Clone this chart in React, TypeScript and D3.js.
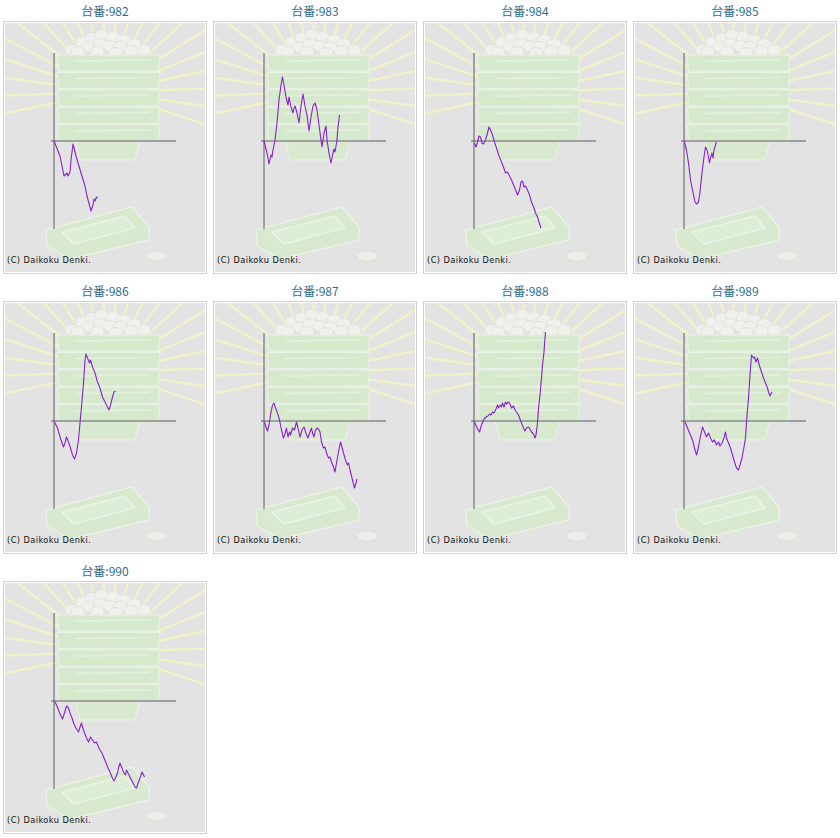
import * as d3 from 'd3'

const W = 840, H = 838
const COLS = 4
const PITCH_X = 210, PITCH_Y = 280

// machine numbers, in reading order
const MACHINES = ['982', '983', '984', '985', '986', '987', '988', '989', '990']

// slump data: [games (x), balls/100 (y)]
const SLUMP_982: [number, number][] = [
  [0, 0], [6, -15], [10, -35], [13, -32], [14, -35], [16, -31], [17, -19], [19, -3], [22, -15],
  [27, -32], [31, -45], [33, -55], [37, -70], [39, -64], [40, -58], [41, -60], [42.5, -56], [43.5, -57],
]
const SLUMP_983: [number, number][] = [
  [0, 0], [3, -12], [5, -23], [7, -14], [8, -16], [9, -9], [11, 1], [13, 18], [15, 41], [17, 56],
  [18.5, 64], [20, 56], [22, 44], [24, 36], [25, 44], [27, 34], [29, 28], [30, 33], [31, 35],
  [33, 28], [35, 18], [37, 35], [39, 47], [41, 35], [43, 26], [45, 10], [47, 24], [49, 35],
  [51, 38], [53, 31], [55, 16], [57, 1], [58, -6], [60, 8], [62, 15], [63, 1], [65, -12],
  [67, -22], [69, -12], [70, -8], [71, -11], [73, 1], [74, 14], [75.5, 26],
]
const SLUMP_984: [number, number][] = [
  [0.5, -2], [2, -6], [3.5, -1], [5, 5], [6.5, 4], [8, -2], [9.5, -3], [11.5, 1], [13.5, 8],
  [15, 14], [16.5, 11], [18.5, 6], [20.5, -1], [22.5, -7], [25, -15], [27.5, -21], [29.5, -26],
  [31.5, -32], [33.5, -31], [35.5, -35], [37.5, -39], [40, -45], [42, -50], [43.5, -54],
  [45.5, -49], [47, -41], [48.5, -40], [50, -46], [51.5, -45], [53.5, -49], [55.5, -54],
  [57.5, -61], [60, -67], [61.5, -72], [63.5, -76], [65, -81], [67, -87],
]
const SLUMP_985: [number, number][] = [
  [0.5, -1], [2.5, -9], [4.5, -22], [6.5, -39], [8.5, -49], [11, -61], [12.5, -63], [14.5, -61],
  [16, -51], [18, -32], [20, -16], [21.5, -6], [23, -9], [24.5, -16], [25.5, -22], [26.5, -17],
  [28, -12], [29, -17], [30, -9], [31.5, -4], [32.5, -1],
]
const SLUMP_986: [number, number][] = [
  [0.5, -1], [3.5, -7], [5.5, -14], [7, -19], [9.5, -26], [11, -22], [12.5, -16], [14.5, -21],
  [16.5, -27], [18.5, -34], [20.5, -38], [22.5, -32], [24.5, -19], [26, -2], [27.5, 14],
  [29.5, 38], [31, 61], [32, 67], [33.5, 63], [35.5, 58], [36.5, 61], [38.5, 54], [41, 48],
  [43.5, 39], [46, 33], [48.5, 24], [51, 19], [53.5, 14], [55, 11], [56.5, 16], [58.5, 24],
  [60, 29], [61.5, 30],
]
const SLUMP_987: [number, number][] = [
  [0.5, -1], [2, -6], [3.5, -10], [5, -4], [6.5, 6], [8.5, 16], [10, 18], [11.5, 13], [13.5, 8],
  [15.5, 1], [17.5, -9], [19.5, -17], [21, -13], [22.5, -7], [24, -16], [25.5, -11], [26.5, -14],
  [28.5, -7], [30.5, -9], [32.5, -1], [34, -7], [36, -16], [38, -9], [40, -6], [42, -12],
  [44, -17], [46, -11], [47.5, -7], [48.5, -12], [50, -16], [51.5, -9], [53.5, -7], [55, -9],
  [56, -11], [57.5, -21], [59.5, -27], [61, -26], [62.5, -32], [64.5, -37], [66, -36],
  [67.5, -41], [69.5, -46], [71, -51], [72.5, -42], [74.5, -31], [76.5, -21], [78, -26],
  [79.5, -32], [81.5, -39], [83.5, -44], [84.5, -42], [86, -49], [88, -57], [89.5, -63],
  [90.5, -67], [92, -62], [93, -58],
]
const SLUMP_988: [number, number][] = [
  [0.5, -1], [2.5, -6], [5.5, -11], [7.5, -4], [10, 2], [12, 4], [14, 5], [15.5, 7], [17, 6],
  [18.5, 9], [20, 8], [22, 12], [23.5, 16], [24.5, 13], [26, 16], [27.5, 14], [28.5, 18],
  [30, 14], [31.5, 19], [32.5, 17], [34.5, 19], [36, 17], [37.5, 13], [39.5, 15], [41, 11],
  [42.5, 9], [44.5, 6], [46, 2], [47.5, -2], [49.5, -7], [51, -10], [52.5, -7], [54.5, -6],
  [56, -8], [57.5, -11], [59.5, -13], [61, -17], [62, -14], [63.5, -2], [64.5, 13], [66, 26],
  [67.5, 43], [68.5, 56], [70, 69], [71, 83], [71.5, 89],
]
const SLUMP_989: [number, number][] = [
  [1, -1], [3.5, -7], [6, -13], [8.5, -19], [10.5, -27], [12.5, -34], [14.5, -26], [16.5, -15],
  [18.5, -6], [20.5, -11], [22.5, -16], [24.5, -12], [26.5, -17], [28.5, -21], [30.5, -19],
  [32.5, -24], [34.5, -21], [36, -25], [38, -22], [40, -17], [41.5, -11], [42.5, -17],
  [44.5, -22], [46.5, -27], [48.5, -34], [50.5, -41], [52.5, -47], [54.5, -49], [56, -44],
  [58, -37], [60, -26], [61.5, -17], [62.5, -1], [64.5, 23], [66, 46], [67.5, 66], [69.5, 63],
  [70.5, 64], [72, 59], [73.5, 63], [75.5, 55], [77.5, 49], [79.5, 43], [81.5, 38], [83.5, 33],
  [84.5, 29], [86, 25], [87, 27], [88, 29],
]
const SLUMP_990: [number, number][] = [
  [1, -1], [2.5, -4], [4.5, -9], [6.5, -14], [8.5, -18], [10.5, -12], [12.5, -5], [14.5, -7],
  [16, -12], [18, -17], [20, -23], [22, -27], [24.5, -31], [26, -26], [27.5, -22], [28.5, -26],
  [30.5, -32], [32.5, -37], [34.5, -41], [36.5, -36], [38.5, -39], [40.5, -42], [42.5, -41],
  [44.5, -46], [46, -49], [48, -52], [50, -57], [52, -62], [54, -67], [56, -71], [58, -76],
  [60, -80], [61.5, -77], [63.5, -72], [64.5, -67], [66, -62], [67.5, -66], [69.5, -71],
  [71.5, -74], [72.5, -69], [74.5, -73], [76.5, -77], [78.5, -81], [81, -86], [82.5, -87],
  [84.5, -81], [86, -77], [88, -71], [89.5, -74], [90.5, -76],
]
const SLUMPS = [SLUMP_982, SLUMP_983, SLUMP_984, SLUMP_985, SLUMP_986, SLUMP_987, SLUMP_988, SLUMP_989, SLUMP_990]

const X_DOMAIN: [number, number] = [0, 122]
const Y_DOMAIN: [number, number] = [-88, 88]

const x = d3.scaleLinear(X_DOMAIN, [54, 176])
const y = d3.scaleLinear(Y_DOMAIN, [229, 53])
const line = d3.line<[number, number]>().x((d) => x(d[0])).y((d) => y(d[1]))

// decorative backdrop (the machine's picture), drawn faint
const RAY_C = { x: 106, y: 92 }
const rays = d3.range(22).map((i) => {
  const a = ((-18 + i * 10) * Math.PI) / 180
  const r0 = 50, r1 = 140
  return {
    x1: RAY_C.x + Math.cos(a) * r0, y1: RAY_C.y - Math.sin(a) * r0,
    x2: RAY_C.x + Math.cos(a) * r1, y2: RAY_C.y - Math.sin(a) * r1,
  }
})
const balls = [
  [72, 50], [82, 42], [92, 38], [102, 35], [113, 37], [124, 40], [134, 44], [144, 50],
  [78, 52], [90, 47], [100, 44], [110, 46], [120, 47], [131, 51], [97, 52], [116, 53],
]

function Backdrop({ clip }: { clip: string }) {
  const trays = d3.range(5)
  return (
    <g clipPath={`url(#${clip})`}>
      {rays.map((r, i) => (
        <line key={i} x1={r.x1} y1={r.y1} x2={r.x2} y2={r.y2} stroke="#f2f2c8" strokeWidth={2.4} />
      ))}
      {balls.map(([bx, by], i) => (
        <ellipse key={i} cx={bx} cy={by} rx={7} ry={5.5} fill="#f0f0ec" stroke="#dcdcd6" strokeWidth={0.6} />
      ))}
      <polygon points="75,140 140,140 135,160 80,160" fill="#d8e9d0" stroke="#ebf4e7" strokeWidth={1} />
      {trays.map((i) => {
        const t = 55 + i * 17.5
        return (
          <g key={i}>
            <polygon points={`57,${t} 160,${t} 158,${t + 16} 59,${t + 16}`} fill="#d6e9cd" stroke="#eaf4e5" strokeWidth={1} />
            <line x1={75} y1={t + 6} x2={150} y2={t + 5} stroke="#e4f1de" strokeWidth={1.6} />
          </g>
        )
      })}
      <polygon points="46,230 132,207 149,227 149,240 70,259 47,246" fill="#d8e9d0" stroke="#ebf4e7" strokeWidth={1.2} />
      <polygon points="62,232 125,216 135,228 74,244" fill="#deeed6" stroke="#ecf5e8" strokeWidth={1.2} />
      <ellipse cx={157} cy={256} rx={10} ry={5} fill="#eeeee8" stroke="#cfcfcf" strokeWidth={0.6} strokeDasharray="1.5 1" />
    </g>
  )
}

function Panel({ idx }: { idx: number }) {
  const c = idx % COLS, r = Math.floor(idx / COLS)
  const data = SLUMPS[idx]
  const clip = `clip-${idx}`
  return (
    <g transform={`translate(${c * PITCH_X},${r * PITCH_Y})`}>
      <text x={105} y={16} textAnchor="middle" fontSize={12} fill="#2a6f93"
        fontFamily="'Noto Sans CJK JP', 'DejaVu Sans', sans-serif">
        台番:{MACHINES[idx]}
      </text>
      <rect x={3.5} y={21.5} width={203} height={252} fill="#fff" stroke="#cfcfcf" />
      <defs>
        <clipPath id={clip}><rect x={5} y={23} width={200} height={249} /></clipPath>
      </defs>
      <rect x={5} y={23} width={200} height={249} fill="#e3e3e3" />
      <Backdrop clip={clip} />
      <line x1={x(0)} y1={y(Y_DOMAIN[1])} x2={x(0)} y2={y(Y_DOMAIN[0])} stroke="#5a5a5a" strokeWidth={1} />
      <line x1={x(0) - 3} y1={y(0)} x2={x(X_DOMAIN[1])} y2={y(0)} stroke="#5a5a5a" strokeWidth={1} />
      <path d={line(data) ?? ''} fill="none" stroke="#8a1fd2" strokeWidth={1.1} strokeLinejoin="round" />
      <text x={7} y={263} fontSize={8.2} letterSpacing={0.45} fill="#111"
        fontFamily="'DejaVu Sans', sans-serif">(C) Daikoku Denki.</text>
    </g>
  )
}

export default function App() {
  return (
    <svg width={W} height={H} viewBox={`0 0 ${W} ${H}`}
      style={{ position: 'absolute', left: 0, top: 0, background: '#fff' }}>
      {MACHINES.map((_, i) => <Panel key={i} idx={i} />)}
    </svg>
  )
}
